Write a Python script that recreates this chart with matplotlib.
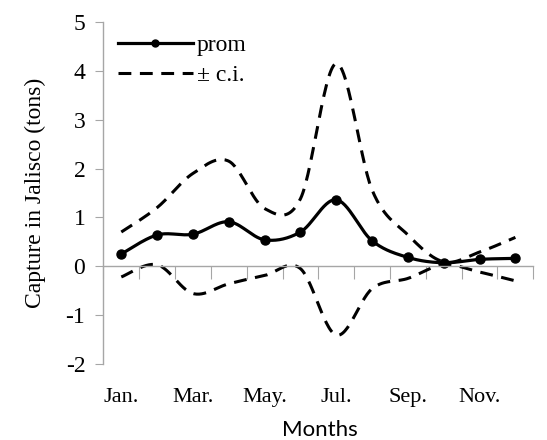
import numpy as np
import matplotlib
matplotlib.use('Agg')
import matplotlib.pyplot as plt
from matplotlib.transforms import blended_transform_factory

plt.rcParams['font.family'] = ['Liberation Serif', 'DejaVu Sans']

# 資料
months = ['Jan.', 'Feb.', 'Mar.', 'Apr.', 'May.', 'Jun.',
          'Jul.', 'Aug.', 'Sep.', 'Oct.', 'Nov.', 'Dec.']
prom = [0.25, 0.64, 0.655, 0.91, 0.54, 0.70, 1.36, 0.52, 0.18, 0.07, 0.14, 0.16]
ci_upper = [0.70, 1.20, 1.90, 2.15, 1.18, 1.38, 4.15, 1.56, 0.64, 0.09, 0.29, 0.59]
ci_lower = [-0.22, 0.03, -0.56, -0.36, -0.19, -0.05, -1.41, -0.46, -0.25, 0.03, -0.12, -0.30]
yticks = [-2, -1, 0, 1, 2, 3, 4, 5]


# Excel 風格的平滑曲線 (Catmull-Rom -> Bezier)
def smooth(x, y, n=30):
    x = np.asarray(x, float)
    y = np.asarray(y, float)
    px = np.concatenate([[x[0]], x, [x[-1]]])
    py = np.concatenate([[y[0]], y, [y[-1]]])
    t = np.linspace(0, 1, n)[:, None]
    xs, ys = [], []
    for i in range(1, len(px) - 2):
        p0 = np.array([px[i], py[i]])
        p3 = np.array([px[i + 1], py[i + 1]])
        p1 = p0 + (p3 - np.array([px[i - 1], py[i - 1]])) / 6
        p2 = p3 - (np.array([px[i + 2], py[i + 2]]) - p0) / 6
        b = ((1 - t) ** 3) * p0 + 3 * ((1 - t) ** 2) * t * p1 + 3 * (1 - t) * t ** 2 * p2 + t ** 3 * p3
        xs.append(b[:, 0])
        ys.append(b[:, 1])
    return np.concatenate(xs), np.concatenate(ys)


x = np.arange(1, len(months) + 1)

fig = plt.figure(figsize=(5.47, 4.40), dpi=100)
ax = fig.add_axes([0.189, 0.173, 0.786, 0.777])

grey = '#a6a6a6'

sx, sy = smooth(x, prom)
ax.plot(sx, sy, color='black', lw=2.3, solid_capstyle='round')
ax.plot(x, prom, 'o', color='black', ms=6.5)
# 圖例用的 handle
ax.plot([], [], '-o', color='black', lw=2.3, ms=5, label='prom')

dash = (4.2, 2.8)
sx, sy = smooth(x, ci_upper)
ax.plot(sx, sy, color='black', lw=2.2, ls=(0, dash), label='± c.i.')
sx, sy = smooth(x, ci_lower)
ax.plot(sx, sy, color='black', lw=2.2, ls=(0, dash))

ax.set_xlim(0.5, 12.5)
ax.set_ylim(-2, 5)

# 軸線
for s in ['top', 'right']:
    ax.spines[s].set_visible(False)
ax.spines['left'].set_color(grey)
ax.spines['bottom'].set_color(grey)
ax.spines['bottom'].set_position(('data', 0))
ax.spines['left'].set_linewidth(1.0)
ax.spines['bottom'].set_linewidth(1.0)

ax.set_yticks(yticks)
ax.set_yticklabels([str(v) for v in yticks], fontsize=17)
ax.tick_params(axis='y', direction='out', length=6, color=grey, pad=7)

ax.set_xticks(np.arange(0.5, 13, 1))
ax.set_xticklabels([])
ax.tick_params(axis='x', direction='out', length=9, color=grey)

# x 軸標籤放在圖的底部
tr = blended_transform_factory(ax.transData, ax.transAxes)
for i in range(0, len(months), 2):
    ax.text(x[i], -0.07, months[i], transform=tr, ha='center', va='top', fontsize=16)

ax.set_ylabel('Capture in Jalisco (tons)', fontsize=17, labelpad=14)
fig.text(0.585, 0.0, 'Months', ha='center', va='bottom', fontfamily='Lato', fontsize=16)

ax.legend(loc='upper left', frameon=False, prop={'size': 17},
          handlelength=3.2, handletextpad=0.15, labelspacing=0.35,
          borderaxespad=0.2, bbox_to_anchor=(0.0, 1.005))

fig.savefig('out.png', dpi=100)
